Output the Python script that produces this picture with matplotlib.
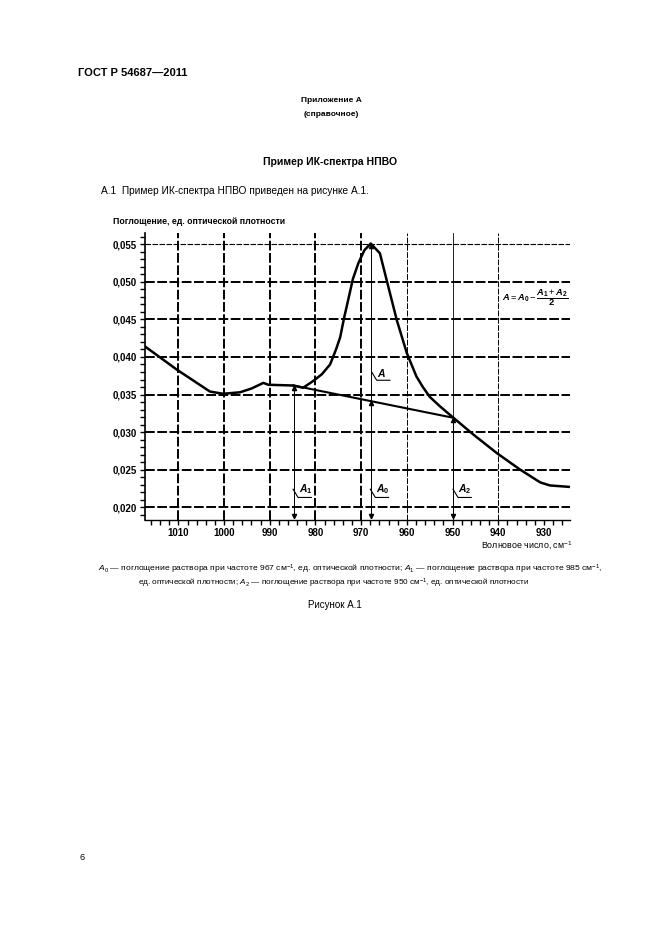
import matplotlib
matplotlib.use("Agg")
import matplotlib.pyplot as plt
from matplotlib.ticker import FixedLocator, MultipleLocator, FuncFormatter

plt.rcParams["font.family"] = ["Liberation Sans", "DejaVu Sans"]
plt.rcParams["mathtext.fontset"] = "custom"
plt.rcParams["mathtext.rm"] = "Liberation Sans"
plt.rcParams["mathtext.it"] = "Liberation Sans:italic"
plt.rcParams["mathtext.bf"] = "Liberation Sans:bold"
plt.rcParams["mathtext.bfit"] = "Liberation Sans:italic:bold"

# spectrum (wavenumber, cm^-1 / absorbance)
wavenumber = [1017.3, 1010.3, 1003.1, 1000.2, 996.5, 994.0, 991.4, 990.3, 984.8,
              982.7, 980.5, 978.6, 976.8, 975.5, 974.6, 973.7, 972.8, 971.8,
              970.6, 969.3, 967.9, 965.9, 963.7, 962.2, 960.0, 957.9, 956.5,
              955.0, 952.7, 949.8, 945.5, 940.3, 935.2, 930.8, 928.7, 924.3]
absorbance = [0.0414, 0.0383, 0.0354, 0.0351, 0.0353, 0.0358, 0.03655, 0.0363, 0.0362,
              0.0359, 0.0368, 0.0377, 0.0390, 0.0410, 0.0426, 0.0453, 0.0477, 0.0504,
              0.0525, 0.0542, 0.0551, 0.0538, 0.0485, 0.0449, 0.0405, 0.0374, 0.0360,
              0.0347, 0.0334, 0.0319, 0.0297, 0.0272, 0.0250, 0.0233, 0.0229, 0.0227]

# baseline between A1 and A2
baseline_wn = [984.8, 949.8]
baseline_a = [0.0362, 0.0319]

# measurement points: (label, wavenumber, top of the dimension line)
points = [("A_1", 984.8, 0.0362), ("A_0", 967.9, 0.0551), ("A_2", 949.8, 0.0319)]
a_mark = 0.0341  # baseline under the peak

x_major = [1010, 1000, 990, 980, 970, 960, 950, 940, 930]
y_major = [0.020, 0.025, 0.030, 0.035, 0.040, 0.045, 0.050, 0.055]

W, H = 661, 936
fig = plt.figure(figsize=(W / 100, H / 100), dpi=100)


def ftext(x, y, s, **kw):
    fig.text(x / W, 1 - y / H, s, **kw)


ax = fig.add_axes([145 / W, 1 - 520 / H, (570 - 145) / W, (520 - 233) / H])
ax.set_xlim(1017.3, 924.3)
ax.set_ylim(0.0183, 0.0565)

# grid
for v in y_major:
    thin = v == 0.055
    ax.axhline(v, color="black", lw=0.8 if thin else 1.4, dashes=(5, 1.3), zorder=1)
for v in x_major[:-1]:
    if v == 950:
        ax.axvline(v, color="black", lw=0.6, zorder=1)
    elif v in (960, 940):
        ax.axvline(v, color="black", lw=0.7, dashes=(6, 1.5), zorder=1)
    else:
        ax.axvline(v, color="black", lw=1.4, dashes=(5, 1.3), zorder=1)

# spectrum and baseline
ax.plot(wavenumber, absorbance, color="black", lw=1.8, zorder=3, solid_joinstyle="round")
ax.plot(baseline_wn, baseline_a, color="black", lw=1.5, zorder=3)

# dimension lines
ymin = ax.get_ylim()[0]
bottom = ymin + 0.0003
for lab, x, top in points:
    ax.plot([x, x], [bottom, top], color="black", lw=0.7, zorder=2)
    ax.plot([x], [bottom + 0.0002], marker="v", ms=3, color="black", zorder=4)
    ax.plot([x], [top - 0.0003], marker="^", ms=3, color="black", zorder=4)
ax.plot([points[1][1]], [a_mark - 0.0002], marker="^", ms=3, color="black", zorder=4)


def leader(x, y, s):
    ax.plot([x, x - 1.1, x - 4.0], [y, y - 0.0011, y - 0.0011], color="black", lw=0.8, zorder=4)
    ax.text(x - 1.2, y - 0.0009, "$" + s + "$", fontsize=7.5,
            ha="left", va="bottom", zorder=5)


leader(967.7, 0.0380, r"\mathbfit{A}")
for lab, x, top in points:
    leader(x + 0.1, 0.0224, r"\mathbfit{A}_\mathbf{" + lab[-1] + "}")

ax.text(939.2, 0.0479,
        r"$\mathbfit{A} = \mathbfit{A}_\mathbf{0} - \dfrac{\mathbfit{A}_\mathbf{1}"
        r" + \mathbfit{A}_\mathbf{2}}{\mathbf{2}}$",
        fontsize=6.7, ha="left", va="center", zorder=5)

# axes styling
for side in ("top", "right"):
    ax.spines[side].set_visible(False)
ax.spines["left"].set_linewidth(1.2)
ax.spines["bottom"].set_linewidth(1.0)
ax.xaxis.set_major_locator(FixedLocator(x_major))
ax.xaxis.set_minor_locator(MultipleLocator(2))
ax.yaxis.set_major_locator(FixedLocator(y_major))
ax.yaxis.set_minor_locator(MultipleLocator(0.001))
ax.yaxis.set_major_formatter(FuncFormatter(lambda v, p: f"{v:.3f}".replace(".", ",")))
ax.tick_params(which="both", direction="out", length=3.5, width=1.0, labelsize=7, pad=2.5)
for t in ax.get_xticklabels() + ax.get_yticklabels():
    t.set_fontweight("bold")

ftext(113, 222, "Поглощение, ед. оптической плотности", fontsize=6.3,
      fontweight="bold", ha="left", va="center")
ftext(572, 546, "Волновое число, см$^{-1}$", fontsize=6.4, ha="right", va="center")

# page text
ftext(78, 73, "ГОСТ Р 54687—2011", fontsize=8, fontweight="bold", va="center")
ftext(331, 100, "Приложение А", fontsize=6, fontweight="bold", ha="center", va="center")
ftext(331, 114, "(справочное)", fontsize=6, fontweight="bold", ha="center", va="center")
ftext(330, 162, "Пример ИК-спектра НПВО", fontsize=7.5, fontweight="bold",
      ha="center", va="center")
ftext(101, 191, "А.1  Пример ИК-спектра НПВО приведен на рисунке А.1.", fontsize=7.3,
      va="center")
ftext(350, 569, "$\\mathit{A}_0$ — поглощение раствора при частоте 967 см$^{-1}$, ед. оптической "
      "плотности; $\\mathit{A}_1$ — поглощение раствора при частоте 985 см$^{-1}$,",
      fontsize=6.1, ha="center", va="center")
ftext(334, 583, "ед. оптической плотности; $\\mathit{A}_2$ — поглощение раствора при частоте "
      "950 см$^{-1}$, ед. оптической плотности", fontsize=5.9, ha="center", va="center")
ftext(335, 605, "Рисунок А.1", fontsize=7, ha="center", va="center")
ftext(80, 858, "6", fontsize=6.5, va="center")

fig.savefig("out.png", dpi=100)
